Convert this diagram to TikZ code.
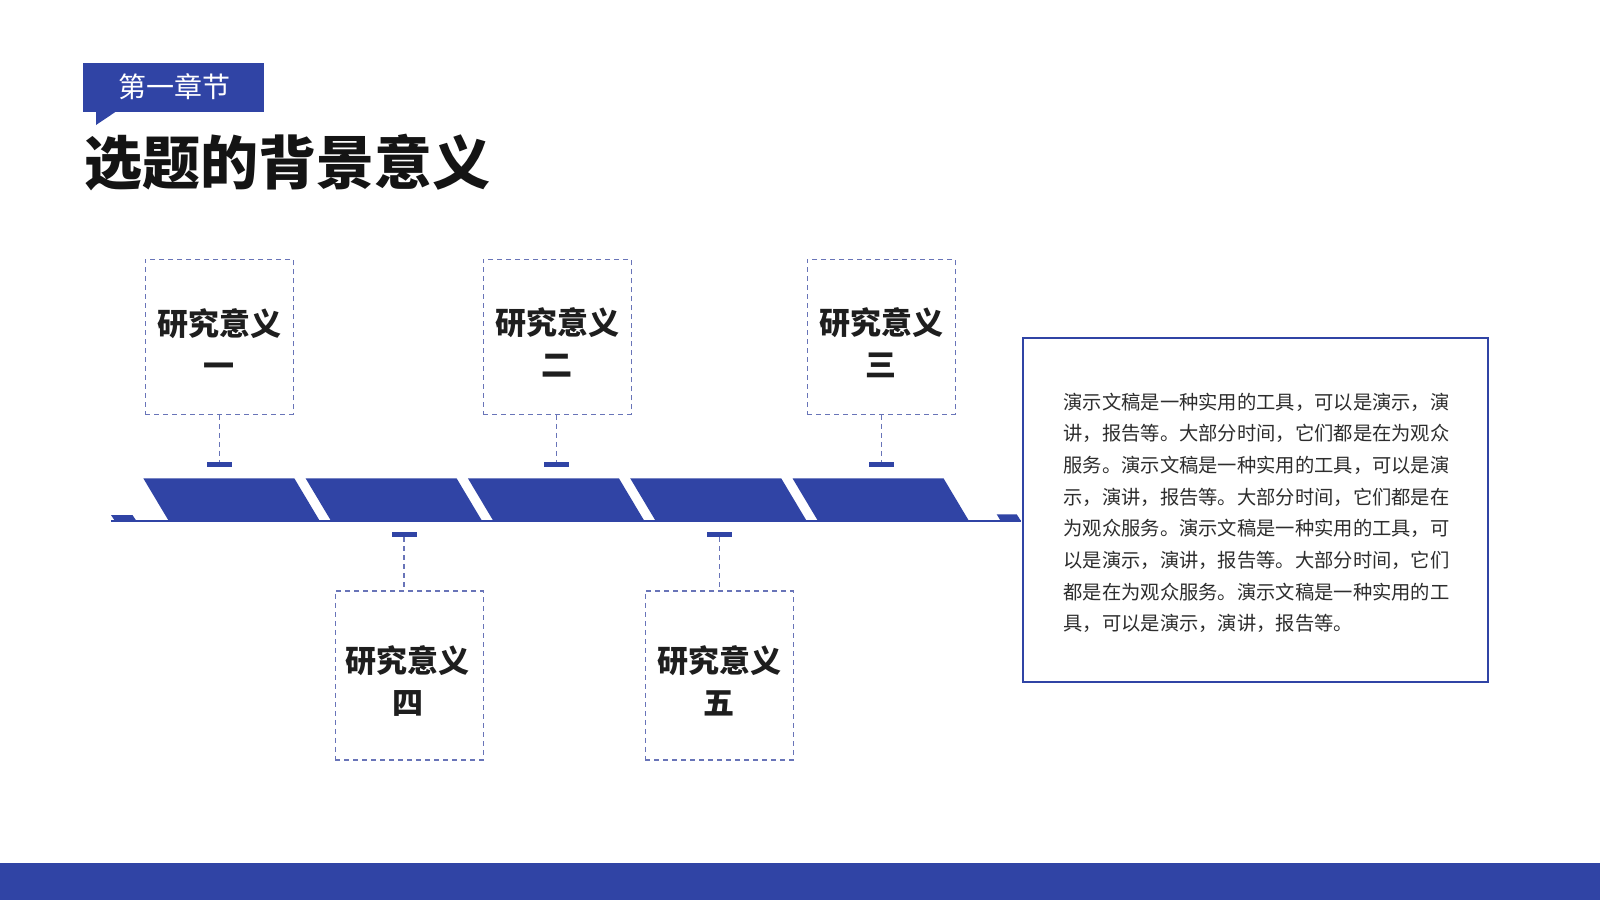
\documentclass[tikz,border=0pt]{standalone}
\usepackage{fontspec}
\newfontfamily\cjk{Noto Sans CJK SC}
\definecolor{mainblue}{RGB}{48,68,165}
\definecolor{dashblue}{RGB}{104,116,184}
\definecolor{bodytxt}{RGB}{45,45,45}
\definecolor{labeltxt}{RGB}{30,30,30}
\tikzset{
  dbox/.style={draw=dashblue, dash pattern=on 5pt off 4pt, line width=1.2pt, minimum width=148pt, inner sep=0pt},
  dline/.style={draw=dashblue, dash pattern=on 5pt off 4pt, line width=1.2pt},
  marker/.style={fill=mainblue, minimum width=25pt, minimum height=5pt, inner sep=0pt},
  lbl/.style={font=\cjk\bfseries\fontsize{31}{42}\selectfont, text=labeltxt, align=center, inner sep=0pt},
  bodyline/.style={font=\cjk\fontsize{19.3}{31.7}\selectfont, text=bodytxt, anchor=base west, inner sep=0pt},
  band/.style={fill=mainblue}
}
\begin{document}
\begin{tikzpicture}[x=1pt,y=-1pt]
\useasboundingbox (0,0) rectangle (1600,900);
\fill[white] (0,0) rectangle (1600,900);

% header tag
\fill[mainblue] (83.3,62.7) rectangle (264.3,111.7);
\fill[mainblue] (96,110) -- (96,125) -- (118.3,110) -- cycle;
\node[font=\cjk\fontsize{28}{28}\selectfont, text=white, inner sep=0pt] (tag) at (174,87) {第一章节};

% title
\node[font=\cjk\bfseries\fontsize{58}{58}\selectfont, text=black!92, anchor=west, inner sep=0pt] (title) at (84,162.5) {选题的背景意义};

% timeline band
\foreach \i in {0,...,4}
  \fill[band] ({143.3+162.3*\i},478.3) -- ++(151,0) -- ++(25.5,42.7) -- ++(-151,0) -- cycle;
\fill[band] (111,515) -- (132.5,515) -- (136.5,521) -- (115,521) -- cycle;
\fill[band] (996.7,514.3) -- (1016.7,514.3) -- (1021,521) -- (1000.7,521) -- cycle;
\draw[mainblue, line width=2pt] (111,521) -- (1021,521);

% upper boxes
\node[dbox, minimum height=155pt] (b1) at (219.2,336.8) {};
\node[dbox, minimum height=155pt] (b2) at (557.2,336.8) {};
\node[dbox, minimum height=155pt] (b3) at (881.1,336.8) {};
% lower boxes
\node[dbox, minimum height=169pt] (b4) at (409.2,675.4) {};
\node[dbox, minimum height=169pt] (b5) at (719.2,675.4) {};

% labels
\node[lbl] (t1) at (219.2,342.8) {研究意义\\一};
\node[lbl] (t2) at (557.2,342.8) {研究意义\\二};
\node[lbl] (t3) at (881.1,342.8) {研究意义\\三};
\node[lbl] (t4) at (407.5,681) {研究意义\\四};
\node[lbl] (t5) at (719.2,681) {研究意义\\五};

% markers
\node[marker] (m1) at (219.2,464.2) {};
\node[marker] (m2) at (556.7,464.2) {};
\node[marker] (m3) at (881.5,464.2) {};
\node[marker] (m4) at (404,534.5) {};
\node[marker] (m5) at (719.2,534.5) {};

% dashed connectors
\draw[dline] (b1.south) -- (m1.north);
\draw[dline] (b2.south -| m2.north) -- (m2.north);
\draw[dline] (b3.south -| m3.north) -- (m3.north);
\draw[dline] (m4.south) -- (m4.south |- b4.north);
\draw[dline] (m5.south) -- (b5.north);

% text box
\node[draw=mainblue, line width=2pt, minimum width=465pt, minimum height=343.4pt, inner sep=0pt] (textbox) at (1255.8,510) {};
\foreach \t [count=\i from 0] in {%
  演示文稿是一种实用的工具，可以是演示，演,
  讲，报告等。大部分时间，它们都是在为观众,
  服务。演示文稿是一种实用的工具，可以是演,
  示，演讲，报告等。大部分时间，它们都是在,
  为观众服务。演示文稿是一种实用的工具，可,
  以是演示，演讲，报告等。大部分时间，它们,
  都是在为观众服务。演示文稿是一种实用的工,
  具，可以是演示，演讲，报告等。}
  \node[bodyline] (line\i) at (1063.3,{409.3+31.64*\i}) {\t};

% bottom bar
\fill[mainblue] (0,863.3) rectangle (1600,900);
\end{tikzpicture}
\end{document}
